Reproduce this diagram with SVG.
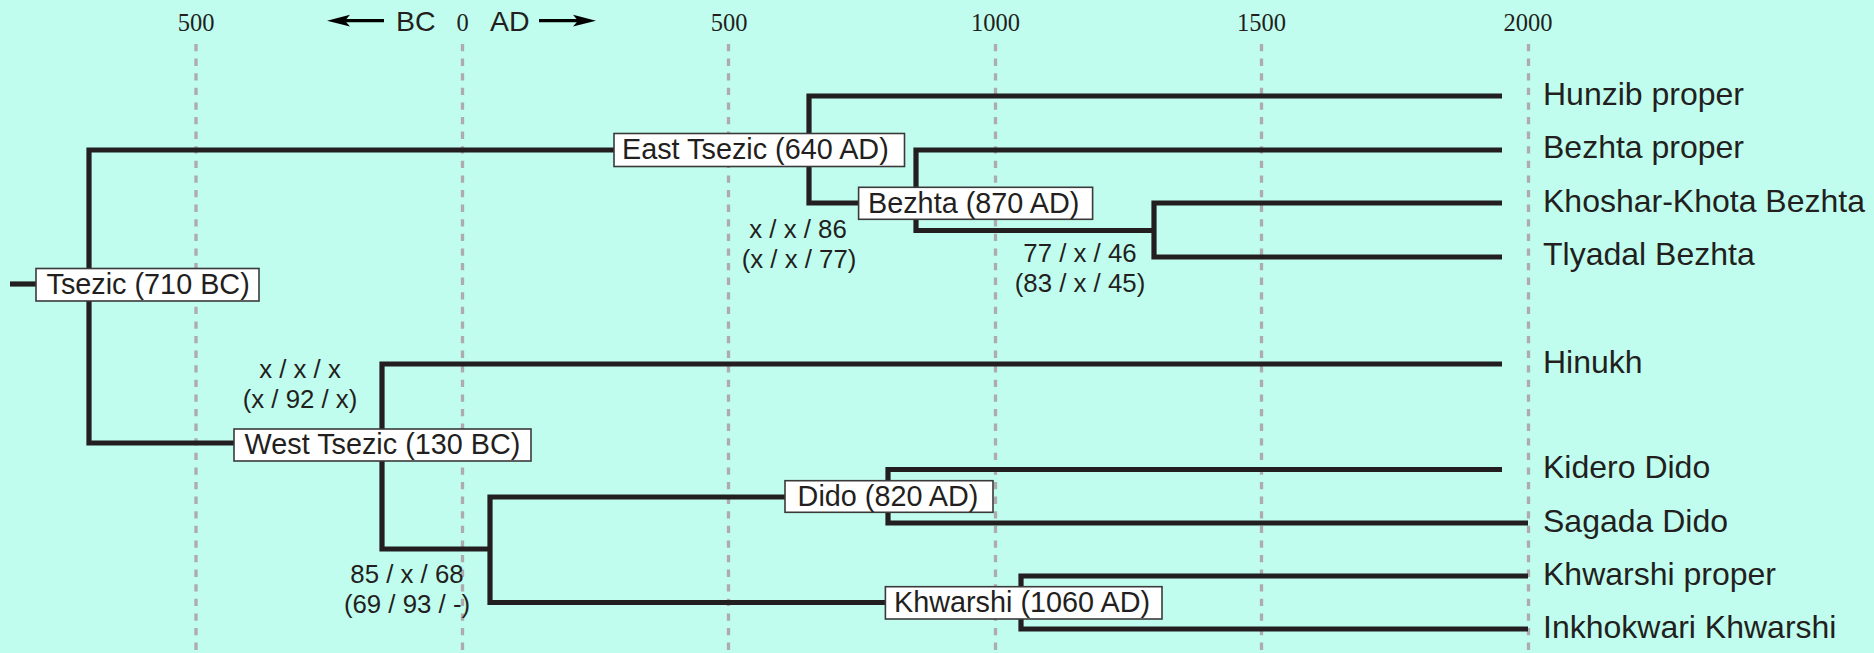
<svg xmlns="http://www.w3.org/2000/svg" width="1874" height="653" viewBox="0 0 1874 653">
<style>
.bg{fill:#c0fdee}
.grid{stroke:#aeaaae;stroke-width:3.3;stroke-dasharray:7.3 7.3;fill:none}
.tick{font-family:"Liberation Serif",serif;font-size:24.5px;fill:#231f20;text-anchor:middle}
.era{font-family:"Liberation Sans",sans-serif;font-size:28.5px;fill:#231f20}
.tree{stroke:#231f20;stroke-width:5.2;fill:none;stroke-linecap:butt;stroke-linejoin:miter}
.box{fill:#ffffff;stroke:#3a3a3a;stroke-width:1.6}
.blabel{font-family:"Liberation Sans",sans-serif;font-size:28.8px;fill:#231f20}
.leaf{font-family:"Liberation Sans",sans-serif;font-size:32px;fill:#231f20}
.ann{font-family:"Liberation Sans",sans-serif;font-size:25.8px;fill:#231f20;text-anchor:middle}
</style>
<rect class="bg" x="0" y="0" width="1874" height="653"/>
<g id="axis">
<line class="grid" x1="196" y1="44" x2="196" y2="653"/>
<line class="grid" x1="462.5" y1="44" x2="462.5" y2="653"/>
<line class="grid" x1="728.5" y1="44" x2="728.5" y2="653"/>
<line class="grid" x1="995.5" y1="44" x2="995.5" y2="653"/>
<line class="grid" x1="1261.5" y1="44" x2="1261.5" y2="653"/>
<line class="grid" x1="1528.5" y1="44" x2="1528.5" y2="653"/>
<text class="tick" x="196" y="30.5">500</text>
<text class="tick" x="462.5" y="30.5">0</text>
<text class="tick" x="729" y="30.5">500</text>
<text class="tick" x="995.5" y="30.5">1000</text>
<text class="tick" x="1261.5" y="30.5">1500</text>
<text class="tick" x="1528" y="30.5">2000</text>
<text class="era" x="396" y="30.5">BC</text>
<text class="era" x="490" y="30.5">AD</text>
<line x1="344" y1="20.7" x2="384" y2="20.7" stroke="#000" stroke-width="3.3"/>
<polygon points="327,20.7 350,14.8 345,20.7 350,26.6" fill="#000"/>
<line x1="539" y1="20.7" x2="580" y2="20.7" stroke="#000" stroke-width="3.3"/>
<polygon points="596,20.7 573,14.8 578,20.7 573,26.6" fill="#000"/>
</g>
<g id="connectors">
<path class="tree" d="M10,284 H36"/>
<path class="tree" d="M614,150 H89 V443 H234"/>
<path class="tree" d="M1502,96 H809 V203 H859"/>
<path class="tree" d="M1502,150 H916 V230.5 H1154"/>
<path class="tree" d="M1502,203 H1154 V257 H1502"/>
<path class="tree" d="M1502,364 H382 V549 H490"/>
<path class="tree" d="M785,497 H490 V602.5 H885"/>
<path class="tree" d="M1502,469.5 H888 V523 H1528"/>
<path class="tree" d="M1528,576 H1021 V629 H1528"/>
</g>
<g id="node-tsezic">
<rect class="box" x="36" y="268.5" width="223" height="32.5"/>
<text class="blabel" x="46.5" y="293.5">Tsezic (710 BC)</text>
</g>
<g id="node-west-tsezic">
<rect class="box" x="234" y="429" width="297" height="32"/>
<text class="blabel" x="244.6" y="453.5">West Tsezic (130 BC)</text>
</g>
<g id="node-east-tsezic">
<rect class="box" x="614" y="133.5" width="290.5" height="33"/>
<text class="blabel" x="622" y="159">East Tsezic (640 AD)</text>
</g>
<g id="node-bezhta">
<rect class="box" x="858.6" y="187.3" width="234" height="32"/>
<text class="blabel" x="868" y="212.7">Bezhta (870 AD)</text>
</g>
<g id="node-dido">
<rect class="box" x="785" y="480.7" width="208" height="31.6"/>
<text class="blabel" x="797.6" y="506">Dido (820 AD)</text>
</g>
<g id="node-khwarshi">
<rect class="box" x="885.4" y="586.7" width="276.6" height="32.3"/>
<text class="blabel" x="894" y="611.7">Khwarshi (1060 AD)</text>
</g>
<g id="annotations">
<text class="ann" x="798" y="238">x / x / 86</text>
<text class="ann" x="799" y="268">(x / x / 77)</text>
<text class="ann" x="1080" y="261.7">77 / x / 46</text>
<text class="ann" x="1080" y="291.7">(83 / x / 45)</text>
<text class="ann" x="300" y="378">x / x / x</text>
<text class="ann" x="300" y="408">(x / 92 / x)</text>
<text class="ann" x="407" y="583">85 / x / 68</text>
<text class="ann" x="407" y="613">(69 / 93 / -)</text>
</g>
<g id="leaf-hunzib"><text class="leaf" x="1543" y="104.5">Hunzib proper</text></g>
<g id="leaf-bezhta-proper"><text class="leaf" x="1543" y="158">Bezhta proper</text></g>
<g id="leaf-khoshar"><text class="leaf" x="1543" y="211.5">Khoshar-Khota Bezhta</text></g>
<g id="leaf-tlyadal"><text class="leaf" x="1543" y="265">Tlyadal Bezhta</text></g>
<g id="leaf-hinukh"><text class="leaf" x="1543" y="373">Hinukh</text></g>
<g id="leaf-kidero"><text class="leaf" x="1543" y="478">Kidero Dido</text></g>
<g id="leaf-sagada"><text class="leaf" x="1543" y="531.5">Sagada Dido</text></g>
<g id="leaf-khwarshi-proper"><text class="leaf" x="1543" y="585">Khwarshi proper</text></g>
<g id="leaf-inkhokwari"><text class="leaf" x="1543" y="638">Inkhokwari Khwarshi</text></g>
</svg>
